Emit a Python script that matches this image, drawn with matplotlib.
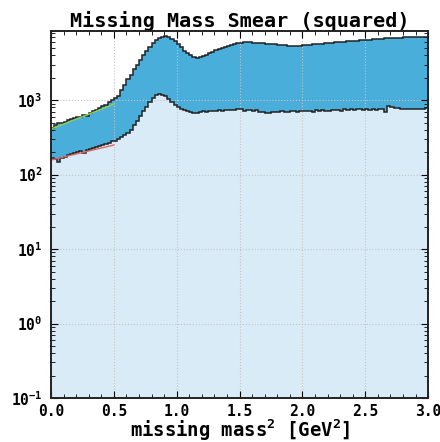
import numpy as np
import matplotlib
matplotlib.use('Agg')
import matplotlib.pyplot as plt

plt.rcParams['font.family'] = ['DejaVu Sans Mono']
plt.rcParams['font.weight'] = 'bold'
plt.rcParams['mathtext.fontset'] = 'custom'
plt.rcParams['mathtext.rm'] = 'DejaVu Sans Mono:bold'
plt.rcParams['mathtext.default'] = 'rm'

# binning of missing mass^2 in GeV^2
bin_edges = np.linspace(0.0, 3.0, 121)

# events per bin, lower component
counts_low = [
    165, 160, 148, 168, 175, 182, 188, 195, 200, 208, 196, 214, 222, 230, 236, 245, 250, 258, 268, 280,
    285, 300, 320, 340, 360, 400, 460, 530, 620, 720, 820, 930, 1060, 1160, 1200, 1190, 1150, 1050, 950, 860,
    800, 770, 740, 720, 690, 670, 680, 700, 710, 700, 715, 720, 710, 730, 725, 740, 730, 745, 735, 750,
    760, 720, 735, 740, 725, 730, 700, 690, 680, 670, 700, 690, 700, 710, 690, 700, 705, 720, 700, 710,
    720, 715, 725, 700, 730, 720, 740, 720, 725, 740, 730, 745, 725, 750, 740, 760, 730, 750, 760, 745,
    770, 740, 760, 745, 755, 760, 690, 830, 800, 780, 775, 760, 750, 755, 760, 770, 750, 765, 770, 775,
]
# events per bin, stacked total
counts_total = [
    425, 470, 490, 500, 505, 540, 560, 575, 590, 600, 640, 620, 680, 720, 740, 790, 840, 870, 930, 990,
    1060, 1150, 1350, 1600, 1900, 2200, 2600, 3000, 3500, 4000, 4600, 5200, 5900, 6500, 6900, 7150, 7200, 7050, 6700, 6200,
    5700, 5100, 4600, 4300, 4000, 3800, 3700, 3750, 3900, 4050, 4250, 4450, 4650, 4850, 5050, 5250, 5400, 5550, 5700, 5800,
    5900, 5950, 5950, 5950, 5900, 5900, 5850, 5800, 5750, 5700, 5650, 5600, 5550, 5500, 5450, 5400, 5400, 5350, 5350, 5400,
    5450, 5500, 5550, 5600, 5650, 5700, 5750, 5800, 5850, 5900, 5950, 6000, 6050, 6100, 6150, 6200, 6250, 6300, 6350, 6400,
    6450, 6500, 6550, 6600, 6650, 6700, 6750, 6800, 6800, 6850, 6850, 6900, 6950, 6950, 7000, 7000, 7050, 7050, 7100, 7100,
]

# exponential fits over the low-mass region
fit_x = [0.0, 0.5]
fit_total = [410, 880]
fit_low = [157, 250]

c_light = '#d9ebf7'
c_dark = '#4aaedb'

fig = plt.figure(figsize=(4.4, 4.42), dpi=100)
ax = fig.add_axes([0.116, 0.0995, 0.857, 0.8305])

ax.stairs(counts_total, bin_edges, fill=True, color=c_dark, baseline=1e-3, zorder=1)
ax.stairs(counts_low, bin_edges, fill=True, color=c_light, baseline=1e-3, zorder=2)
ax.stairs(counts_total, bin_edges, color='#222222', lw=1.1, baseline=None, zorder=3)
ax.stairs(counts_low, bin_edges, color='#222222', lw=1.1, baseline=None, zorder=3)

ax.plot(fit_x, fit_total, color='#8fd14f', lw=1.0, zorder=4)
ax.plot(fit_x, fit_low, color='#e06666', lw=1.0, zorder=4)

ax.set_yscale('log')
ax.set_xlim(0, 3.0)
ax.set_ylim(0.1, 8500)

ax.grid(True, which='major', color='#c4c4c4', ls=':', lw=0.8, zorder=5)
ax.set_axisbelow(False)
ax.minorticks_on()
ax.xaxis.set_minor_locator(matplotlib.ticker.MultipleLocator(0.1))
ax.tick_params(which='both', direction='in', top=True, right=True, labelsize=10.5)
ax.tick_params(which='major', length=5)
ax.tick_params(which='minor', length=3)
ax.tick_params(axis='y', which='major', pad=6)
ax.tick_params(axis='x', which='major', pad=4)
for s in ax.spines.values():
    s.set_linewidth(1.4)
    s.set_color('#222222')
    s.set_zorder(6)

ax.set_title('Missing Mass Smear (squared)', fontsize=14.5, fontweight='bold', pad=2)
ax.set_xlabel('missing mass$^2$ [GeV$^2$]', fontsize=13.6, fontweight='bold', labelpad=-1)

fig.savefig('out.png', dpi=100)
